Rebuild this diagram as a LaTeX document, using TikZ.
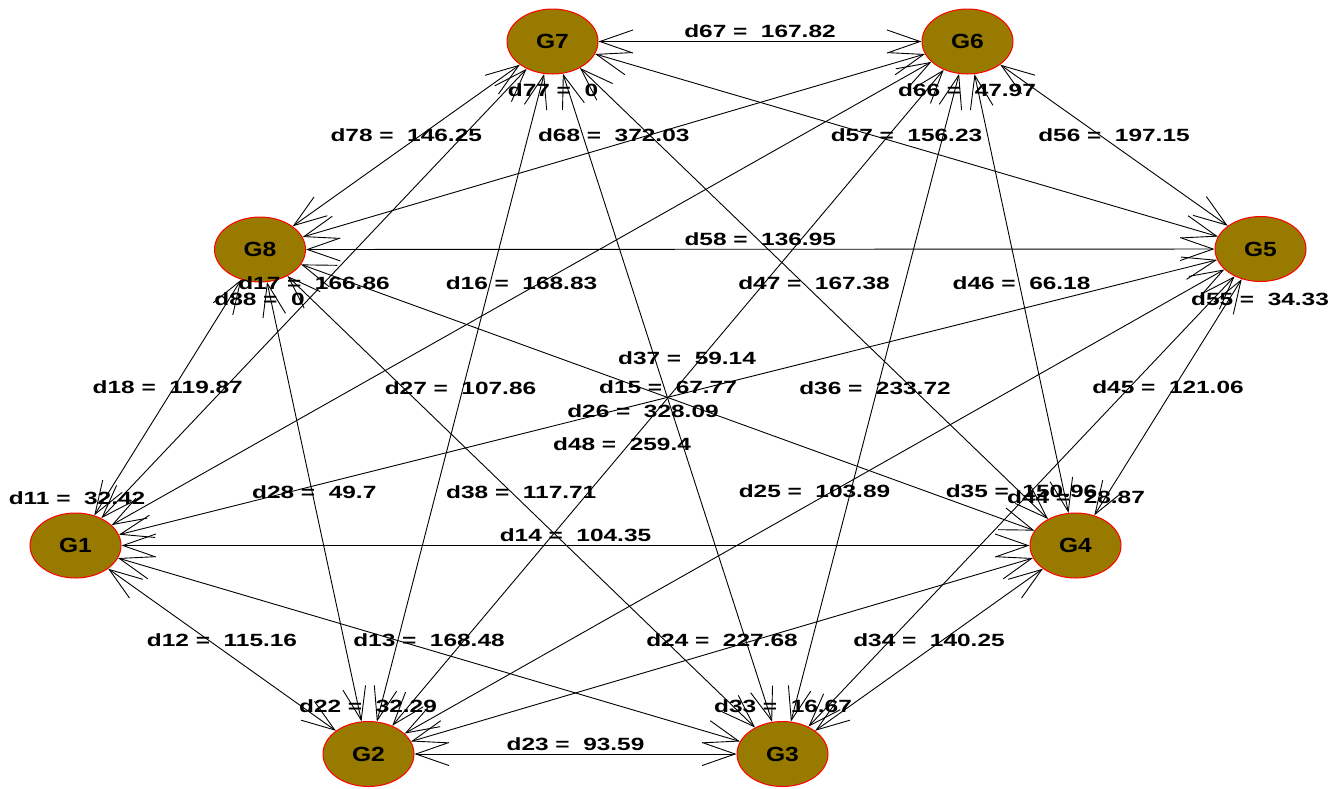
\documentclass[tikz,border=0pt]{standalone}
\usepackage{fontspec}
\usetikzlibrary{arrows.meta,shapes.geometric}
\newfontfamily\labfont[FakeStretch=1.38]{Liberation Sans}
\newfontfamily\genefont[FakeStretch=1.2]{Liberation Sans}
\definecolor{gene}{RGB}{152,122,0}
\definecolor{rim}{RGB}{255,0,0}

\begin{document}
\begin{tikzpicture}[x=1pt,y=-1pt,
  txt/.style={font=\labfont\bfseries\fontsize{17.7}{20}\selectfont, text=black},
  gnode/.style={ellipse, draw=rim, line width=1pt, fill=gene,
    minimum width=91pt, minimum height=65pt, inner sep=0pt,
    font=\genefont\bfseries\fontsize{20.5}{22}\selectfont, text=black},
  link/.style={draw=black, line width=0.9pt, {Straight Barb[length=33pt,width=23pt]}-{Straight Barb[length=33pt,width=23pt]}},
  dist/.style={txt, inner sep=0pt},
  mid/.style={midway, yshift=10pt, dist}
]
\fill[white] (0,0) rectangle (1341,788);
\useasboundingbox (0,0) rectangle (1341,788);

% genes
\node[gnode] (G7) at (552.5,41.5) {G7};
\node[gnode] (G6) at (967.5,41.5) {G6};
\node[gnode] (G8) at (260,249.5) {G8};
\node[gnode] (G5) at (1260.5,249) {G5};
\node[gnode] (G1) at (75.5,545.5) {G1};
\node[gnode] (G4) at (1075.5,545.5) {G4};
\node[gnode] (G2) at (368.5,754) {G2};
\node[gnode] (G3) at (782.5,754) {G3};

% pairwise distances
\draw[link] (G1) -- node[mid]{d12 = \ 115.16} (G2);
\draw[link] (G1) -- node[mid]{d13 = \ 168.48} (G3);
\draw[link] (G1) -- node[mid]{d14 = \ 104.35} (G4);
\draw[link] (G1) -- node[mid]{d15 = \ 67.77} (G5);
\draw[link] (G1) -- node[mid]{d16 = \ 168.83} (G6);
\draw[link] (G1) -- node[mid]{d17 = \ 166.86} (G7);
\draw[link] (G1) -- node[mid]{d18 = \ 119.87} (G8);
\draw[link] (G2) -- node[mid]{d23 = \ 93.59} (G3);
\draw[link] (G2) -- node[mid]{d24 = \ 227.68} (G4);
\draw[link] (G2) -- node[mid]{d25 = \ 103.89} (G5);
\draw[link] (G2) -- (G6);
\draw[link] (G2) -- node[mid]{d27 = \ 107.86} (G7);
\draw[link] (G2) -- node[mid]{d28 = \ 49.7} (G8);
\draw[link] (G3) -- node[mid]{d34 = \ 140.25} (G4);
\draw[link] (G3) -- node[mid]{d35 = \ 150.96} (G5);
\draw[link] (G3) -- node[mid]{d36 = \ 233.72} (G6);
\draw[link] (G3) -- (G7);
\draw[link] (G3) -- node[mid]{d38 = \ 117.71} (G8);
\draw[link] (G4) -- node[mid]{d45 = \ 121.06} (G5);
\draw[link] (G4) -- node[mid]{d46 = \ 66.18} (G6);
\draw[link] (G4) -- node[mid]{d47 = \ 167.38} (G7);
\draw[link] (G4) -- (G8);
\draw[link] (G5) -- node[mid]{d56 = \ 197.15} (G6);
\draw[link] (G5) -- node[mid]{d57 = \ 156.23} (G7);
\draw[link] (G5) -- node[mid]{d58 = \ 136.95} (G8);
\draw[link] (G6) -- node[mid]{d67 = \ 167.82} (G7);
\draw[link] (G6) -- node[mid]{d68 = \ 372.03} (G8);
\draw[link] (G7) -- node[mid]{d78 = \ 146.25} (G8);

% labels moved off the central crossing
\node[dist] (l26) at (643,411) {d26 = \ 328.09};
\node[dist] (l37) at (687,358) {d37 = \ 59.14};
\node[dist] (l48) at (622,444) {d48 = \ 259.4};

% self distances
\node[dist] (l11) at (77,498) {d11 = \ 32.42};
\node[dist] (l22) at (368,706) {d22 = \ 32.29};
\node[dist] (l33) at (783,706) {d33 = \ 16.67};
\node[dist] (l44) at (1076,497.5) {d44 = \ 28.87};
\node[dist] (l55) at (1260,299) {d55 = \ 34.33};
\node[dist] (l66) at (967,90) {d66 = \ 47.97};
\node[dist] (l77) at (553,90) {d77 = \ 0};
\node[dist] (l88) at (259.5,299) {d88 = \ 0};
\end{tikzpicture}
\end{document}
